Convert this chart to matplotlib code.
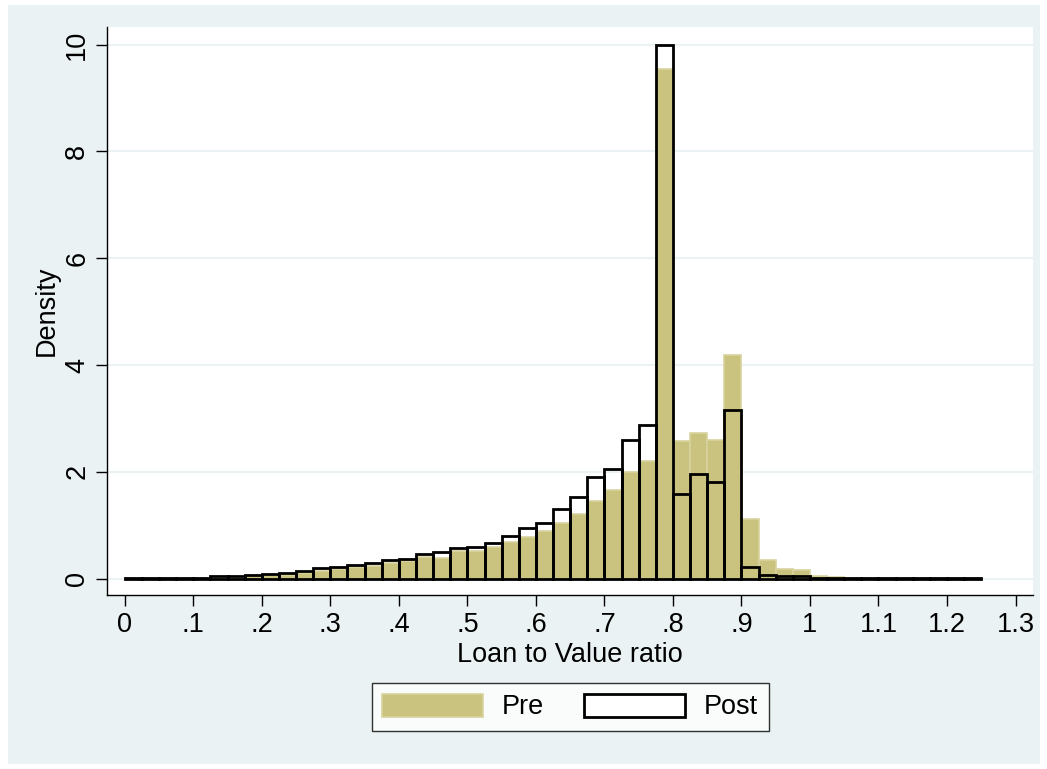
import matplotlib.pyplot as plt
import numpy as np
from matplotlib.patches import Rectangle, Patch

plt.rcParams['font.family'] = ['Liberation Sans', 'DejaVu Sans']

# bins of width .025 from 0 to 1.25
bin_width = 0.025
bin_edges = np.arange(0, 1.25 + 1e-9, bin_width)

pre = [0.01, 0.01, 0.01, 0.01, 0.01, 0.02, 0.02, 0.04, 0.06, 0.06,
       0.10, 0.15, 0.18, 0.21, 0.24, 0.29, 0.33, 0.41, 0.39, 0.51,
       0.51, 0.60, 0.68, 0.78, 0.89, 1.04, 1.21, 1.46, 1.66, 2.00,
       2.20, 9.54, 2.58, 2.73, 2.60, 4.18, 1.12, 0.34, 0.18, 0.17,
       0.05, 0.03, 0.02, 0.01, 0.01, 0.01, 0.01, 0.01, 0.01, 0.01]

post = [0.02, 0.02, 0.02, 0.02, 0.02, 0.04, 0.04, 0.075, 0.09, 0.10,
        0.14, 0.19, 0.22, 0.25, 0.30, 0.34, 0.375, 0.46, 0.49, 0.57,
        0.60, 0.66, 0.80, 0.94, 1.05, 1.31, 1.52, 1.90, 2.06, 2.60,
        2.88, 10.0, 1.59, 1.95, 1.81, 3.16, 0.22, 0.06, 0.04, 0.04,
        0.02, 0.02, 0.02, 0.02, 0.02, 0.02, 0.02, 0.02, 0.02, 0.02]

xticks = [0, .1, .2, .3, .4, .5, .6, .7, .8, .9, 1, 1.1, 1.2, 1.3]
xticklabels = ['0', '.1', '.2', '.3', '.4', '.5', '.6', '.7', '.8', '.9',
               '1', '1.1', '1.2', '1.3']
yticks = [0, 2, 4, 6, 8, 10]

fs = 19.5

W, H = 1047, 769
fig = plt.figure(figsize=(W / 100, H / 100), dpi=100)
fig.patch.set_facecolor('white')
fig.patches.append(Rectangle((8 / W, 5 / H), (1040 - 8) / W, (764 - 5) / H,
                             transform=fig.transFigure, facecolor='#EAF2F3',
                             edgecolor='none', zorder=-10))

ax = fig.add_axes([107 / W, 1 - 595 / H, (1033 - 107) / W, (595 - 27) / H])
ax.set_facecolor('white')

sand = '#CAC37F'
left = bin_edges[:-1]
ax.bar(left, pre, width=bin_width, align='edge', color=sand,
       edgecolor='#D8D29E', linewidth=1.2, zorder=2)
ax.bar(left, post, width=bin_width, align='edge', fill=False,
       edgecolor='black', linewidth=2.0, zorder=3)

ax.set_xlim(-0.026, 1.3255)
ax.set_ylim(-0.307, 10.33)

for y in yticks:
    ax.axhline(y, color='#EAF2F3', linewidth=1.5, zorder=0)

ax.set_xticks(xticks)
ax.set_xticklabels(xticklabels, fontsize=fs)
ax.set_yticks(yticks)
ax.set_yticklabels([str(y) for y in yticks], fontsize=fs, rotation=90, va='center')
ax.tick_params(axis='both', length=8, width=1, color='black', pad=4)

for side in ['top', 'right']:
    ax.spines[side].set_visible(False)
for side in ['left', 'bottom']:
    ax.spines[side].set_linewidth(1)
    ax.spines[side].set_color('black')

ax.set_xlabel('Loan to Value ratio', fontsize=fs, labelpad=3)
ax.set_ylabel('Density', fontsize=fs, labelpad=3)

handles = [Patch(facecolor=sand, edgecolor='#D8D29E', linewidth=1.2),
           Patch(facecolor='white', edgecolor='black', linewidth=2.0)]
leg = fig.legend(handles, ['Pre', 'Post'], loc='center',
                 bbox_to_anchor=(570 / W, 1 - 707 / H), ncol=2, fontsize=fs,
                 frameon=True, fancybox=False, edgecolor='black',
                 handlelength=3.7, handleheight=0.95, handletextpad=0.7,
                 columnspacing=1.5, borderpad=0.4)
leg.get_frame().set_linewidth(1)

fig.savefig('out.png', dpi=100)
